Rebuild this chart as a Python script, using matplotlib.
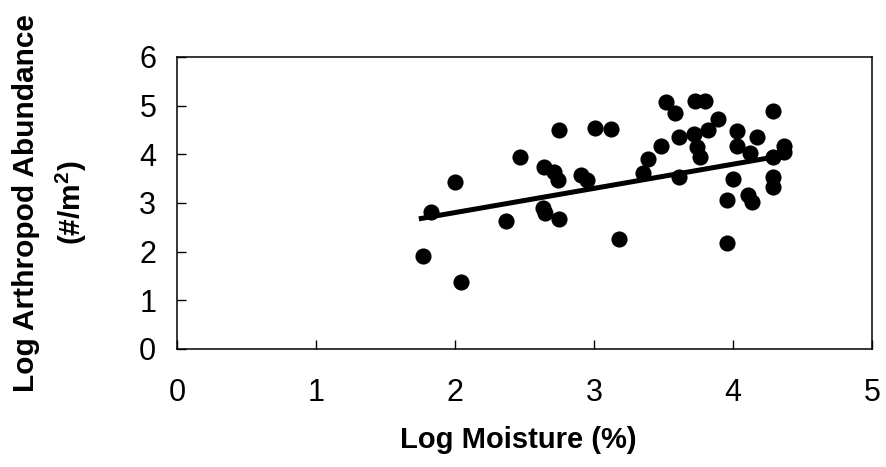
import matplotlib
matplotlib.use("Agg")
import matplotlib.pyplot as plt
import numpy as np

plt.rcParams['font.family'] = ['Liberation Sans', 'DejaVu Sans']
plt.rcParams['mathtext.fontset'] = 'custom'
plt.rcParams['mathtext.rm'] = 'Liberation Sans'
plt.rcParams['mathtext.bf'] = 'Liberation Sans:bold'

# Data
log_moisture = [1.77, 1.83, 2.00, 2.04, 2.37, 2.47, 2.63, 2.65, 2.64, 2.75, 2.75,
                2.71, 2.74, 2.91, 2.95, 3.01, 3.12, 3.18, 3.35, 3.39, 3.48,
                3.52, 3.58, 3.61, 3.61, 3.73, 3.80, 3.72, 3.74, 3.76, 3.82,
                3.89, 4.03, 4.03, 4.12, 4.17, 4.00, 3.96, 4.11, 4.14, 3.96,
                4.29, 4.37, 4.37, 4.29, 4.29, 4.29]
log_abundance = [1.92, 2.82, 3.44, 1.37, 2.62, 3.94, 2.90, 2.79, 3.73, 2.67, 4.49,
                 3.64, 3.47, 3.58, 3.47, 4.55, 4.53, 2.26, 3.61, 3.90, 4.17,
                 5.07, 4.84, 4.35, 3.54, 5.10, 5.10, 4.41, 4.16, 3.94, 4.50,
                 4.72, 4.47, 4.17, 4.02, 4.35, 3.49, 3.06, 3.16, 3.01, 2.17,
                 4.88, 4.17, 4.05, 3.94, 3.53, 3.33]

# Regression line
fit_slope = 0.497
fit_intercept = 1.809
fit_x_range = [1.74, 4.31]

x_ticks = [0, 1, 2, 3, 4, 5]
y_ticks = [0, 1, 2, 3, 4, 5, 6]

fig = plt.figure(figsize=(8.87, 4.67), dpi=100)
ax = fig.add_axes([0.1996, 0.2527, 0.7834, 0.6253])

ax.scatter(log_moisture, log_abundance, s=135, color='black', zorder=3, linewidths=0)
fx = np.array(fit_x_range)
ax.plot(fx, fit_slope * fx + fit_intercept, color='black', lw=3.6, zorder=2,
        solid_capstyle='butt')

ax.set_xlim(0, 5)
ax.set_ylim(0, 6)
ax.set_xticks(x_ticks)
ax.set_yticks(y_ticks)
ax.tick_params(direction='in', length=6.5, width=1.0, labelsize=22)
ax.tick_params(axis='x', pad=21)
ax.tick_params(axis='y', pad=15)
for s in ax.spines.values():
    s.set_linewidth(1.1)
    s.set_color('black')

ax.set_xlabel('Log Moisture (%)', fontsize=21, fontweight='bold', va='center')
ax.xaxis.set_label_coords(0.4905, -0.31)

fig.text(26 / 887, 1 - 203 / 467, 'Log Arthropod Abundance', rotation=90,
         ha='center', va='center', fontsize=21.5, fontweight='bold')
fig.text(71 / 887, 1 - 203 / 467, '(#/m$^{\\mathbf{2}}$)', rotation=90,
         ha='center', va='center', fontsize=21.5, fontweight='bold')

fig.savefig('out.png', dpi=100)
